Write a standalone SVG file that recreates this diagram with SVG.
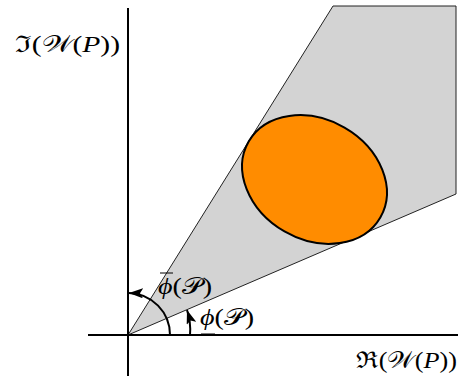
<svg xmlns="http://www.w3.org/2000/svg" width="463" height="379" viewBox="0 0 463 379">
<style>
.lbl{font-family:"Liberation Serif","DejaVu Serif",serif;font-size:23px;fill:#000}
.ax{stroke:#000;stroke-width:2;fill:none}
.edge{stroke:#222;stroke-width:1;fill:#d3d3d3}
.arc{stroke:#000;stroke-width:2;fill:none}
</style>
<defs>
<marker id="ah" viewBox="0 0 14 10" refX="14" refY="5" markerWidth="14" markerHeight="10" orient="auto" markerUnits="userSpaceOnUse">
<path d="M0,0 L14,5 L0,10 L3,5 z" fill="#000"/>
</marker>
</defs>
<g id="cone">
<polygon class="edge" points="128,335 333,6 456,6 456,194"/>
</g>
<g id="set">
<ellipse cx="314.5" cy="179.5" rx="76" ry="60" transform="rotate(30 314.5 179.5)" fill="#ff8c00" stroke="#000" stroke-width="2"/>
</g>
<g id="axes">
<line class="ax" x1="128" y1="8" x2="128" y2="376"/>
<line class="ax" x1="88" y1="335" x2="458" y2="335"/>
</g>
<g id="angles">
<path class="arc" d="M170,335 A42,42 0 0 0 129,293" marker-end="url(#ah)"/>
<path class="arc" d="M190,335 A62,62 0 0 0 187,310" marker-end="url(#ah)"/>
</g>
<g id="labels">
<text class="lbl" x="15" y="52" textLength="105" lengthAdjust="spacingAndGlyphs">ℑ(𝒲(<tspan font-style="italic">P</tspan>))</text>
<text class="lbl" x="356" y="368" textLength="101" lengthAdjust="spacingAndGlyphs">ℜ(𝒲(<tspan font-style="italic">P</tspan>))</text>
<text class="lbl" x="158" y="294" textLength="54" lengthAdjust="spacingAndGlyphs"><tspan font-style="italic">ϕ</tspan>(𝒫)</text>
<line x1="160" y1="273" x2="173" y2="273" stroke="#000" stroke-width="1"/>
<text class="lbl" x="200" y="325" textLength="54" lengthAdjust="spacingAndGlyphs"><tspan font-style="italic">ϕ</tspan>(𝒫)</text>
<line x1="201" y1="334" x2="215" y2="334" stroke="#000" stroke-width="1"/>
</g>
</svg>
